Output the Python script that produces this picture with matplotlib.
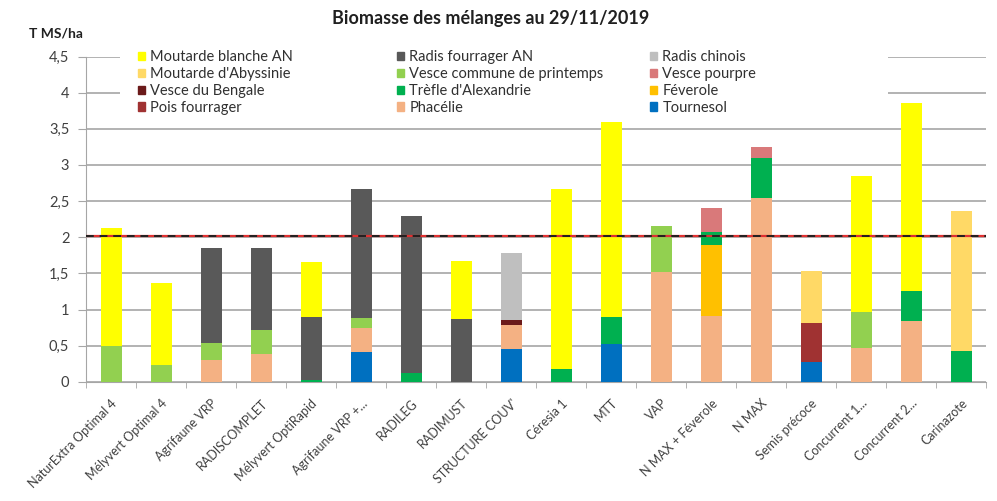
import matplotlib.pyplot as plt
import matplotlib.patches as mpatches
import numpy as np

plt.rcParams['font.family'] = ['Lato', 'DejaVu Sans']

# -- Data --
melanges = ["NaturExtra Optimal 4", "Mélyvert Optimal 4", "Agrifaune VRP", "RADISCOMPLET",
            "Mélyvert OptiRapid", "Agrifaune VRP +...", "RADILEG", "RADIMUST", "STRUCTURE COUV'",
            "Céresia 1", "MTT", "VAP", "N MAX + Féverole", "N MAX", "Semis précoce",
            "Concurrent 1...", "Concurrent 2...", "Carinazote"]

tournesol = [0, 0, 0, 0, 0, 0.41, 0, 0, 0.45, 0, 0.52, 0, 0, 0, 0.28, 0, 0, 0]
phacelie = [0, 0, 0.30, 0.38, 0, 0.34, 0, 0, 0.33, 0, 0, 1.52, 0.91, 2.55, 0, 0.47, 0.845, 0]
feverole = [0, 0, 0, 0, 0, 0, 0, 0, 0, 0, 0, 0, 0.98, 0, 0, 0, 0, 0]
trefle = [0, 0, 0, 0, 0.03, 0, 0.12, 0, 0, 0.18, 0.37, 0, 0.18, 0.55, 0, 0, 0.41, 0.425]
vesce_commune = [0.49, 0.23, 0.23, 0.34, 0, 0.13, 0, 0, 0, 0, 0, 0.63, 0, 0, 0, 0.49, 0, 0]
vesce_pourpre = [0, 0, 0, 0, 0, 0, 0, 0, 0, 0, 0, 0, 0.33, 0.15, 0, 0, 0, 0]
vesce_bengale = [0, 0, 0, 0, 0, 0, 0, 0, 0.08, 0, 0, 0, 0, 0, 0, 0, 0, 0]
pois_fourrager = [0, 0, 0, 0, 0, 0, 0, 0, 0, 0, 0, 0, 0, 0, 0.54, 0, 0, 0]
radis_fourrager = [0, 0, 1.32, 1.13, 0.86, 1.79, 2.17, 0.87, 0, 0, 0, 0, 0, 0, 0, 0, 0, 0]
radis_chinois = [0, 0, 0, 0, 0, 0, 0, 0, 0.92, 0, 0, 0, 0, 0, 0, 0, 0, 0]
moutarde_blanche = [1.64, 1.14, 0, 0, 0.77, 0, 0, 0.80, 0, 2.49, 2.70, 0, 0, 0, 0, 1.89, 2.60, 0]
moutarde_abyssinie = [0, 0, 0, 0, 0, 0, 0, 0, 0, 0, 0, 0, 0, 0, 0.71, 0, 0, 1.94]
seuil = 2.02

# stacking order (bottom -> top)
series = [
    ("Tournesol", tournesol, "#0070C0"),
    ("Phacélie", phacelie, "#F4B183"),
    ("Féverole", feverole, "#FFC000"),
    ("Trèfle d'Alexandrie", trefle, "#00B050"),
    ("Vesce commune de printemps", vesce_commune, "#92D050"),
    ("Vesce pourpre", vesce_pourpre, "#D9797A"),
    ("Vesce du Bengale", vesce_bengale, "#6B1A1A"),
    ("Pois fourrager", pois_fourrager, "#A03232"),
    ("Radis fourrager AN", radis_fourrager, "#595959"),
    ("Radis chinois", radis_chinois, "#BFBFBF"),
    ("Moutarde blanche AN", moutarde_blanche, "#FFFF00"),
    ("Moutarde d'Abyssinie", moutarde_abyssinie, "#FFD966"),
]
colors = {name: c for name, _, c in series}

fig = plt.figure(figsize=(9.97, 5.01), dpi=100)
ax = fig.add_axes([0.0863, 0.238, 0.9027, 0.649])
ax.set_axisbelow(True)

x = np.arange(len(melanges))
bottom = np.zeros(len(melanges))
for name, vals, c in series:
    vals = np.array(vals)
    ax.bar(x, vals, 0.42, bottom=bottom, color=c, zorder=3)
    bottom += vals

# threshold line
ax.axhline(seuil, color="#E03030", lw=1.6, zorder=4)
ax.axhline(seuil, color="#202020", lw=1.4, ls=(0, (4, 3)), zorder=5)

ax.set_xlim(-0.5, len(melanges) - 0.5)
ax.set_ylim(0, 4.5)
yt = np.arange(0, 4.51, 0.5)
ax.set_yticks(yt)
ax.set_yticklabels([("%g" % v).replace(".", ",") for v in yt], fontsize=10.5, color="#404040")
ax.yaxis.grid(True, color="#A6A6A6", lw=1.2)
ax.tick_params(axis="y", length=6, color="#A6A6A6", pad=6)
ax.set_xticks(x)
ax.set_xticklabels(melanges, rotation=45, ha="right", rotation_mode="anchor", fontsize=9, color="#404040")
ax.set_xticks(np.arange(-0.5, len(melanges)), minor=True)
ax.tick_params(axis="x", which="major", length=0, pad=11)
ax.tick_params(axis="x", which="minor", length=4, color="#A6A6A6")
for s in ["top", "right"]:
    ax.spines[s].set_visible(False)
ax.spines["left"].set_color("#A6A6A6")
ax.spines["bottom"].set_color("#A6A6A6")

# white legend area hiding the top gridlines (like the Excel legend box)
ax.add_patch(mpatches.Rectangle((0.038, 0.811), 0.853, 0.25, transform=ax.transAxes,
                                facecolor="white", edgecolor="none", zorder=1, clip_on=False))

fig.text(0.492, 0.964, "Biomasse des mélanges au 29/11/2019", ha="center", va="center",
         fontsize=13, fontweight="bold", color="#202020")
fig.text(0.029, 0.934, "T MS/ha", ha="left", va="center", fontsize=10, fontweight="bold", color="#202020")

legend_cols = [
    ["Moutarde blanche AN", "Moutarde d'Abyssinie", "Vesce du Bengale", "Pois fourrager"],
    ["Radis fourrager AN", "Vesce commune de printemps", "Trèfle d'Alexandrie", "Phacélie"],
    ["Radis chinois", "Vesce pourpre", "Féverole", "Tournesol"],
]
legend_x = [138, 397, 650]
for names, px in zip(legend_cols, legend_x):
    handles = [mpatches.Patch(color=colors[n], label=n) for n in names]
    leg = fig.legend(handles=handles, loc="upper left", bbox_to_anchor=(px / 997, 1 - 50 / 501),
                     fontsize=10.5, frameon=False, handlelength=0.5, handleheight=0.5,
                     handletextpad=0.35, labelspacing=0.2, borderpad=0, borderaxespad=0)
    for t in leg.get_texts():
        t.set_color("#303030")

fig.savefig("out.png", dpi=100)
